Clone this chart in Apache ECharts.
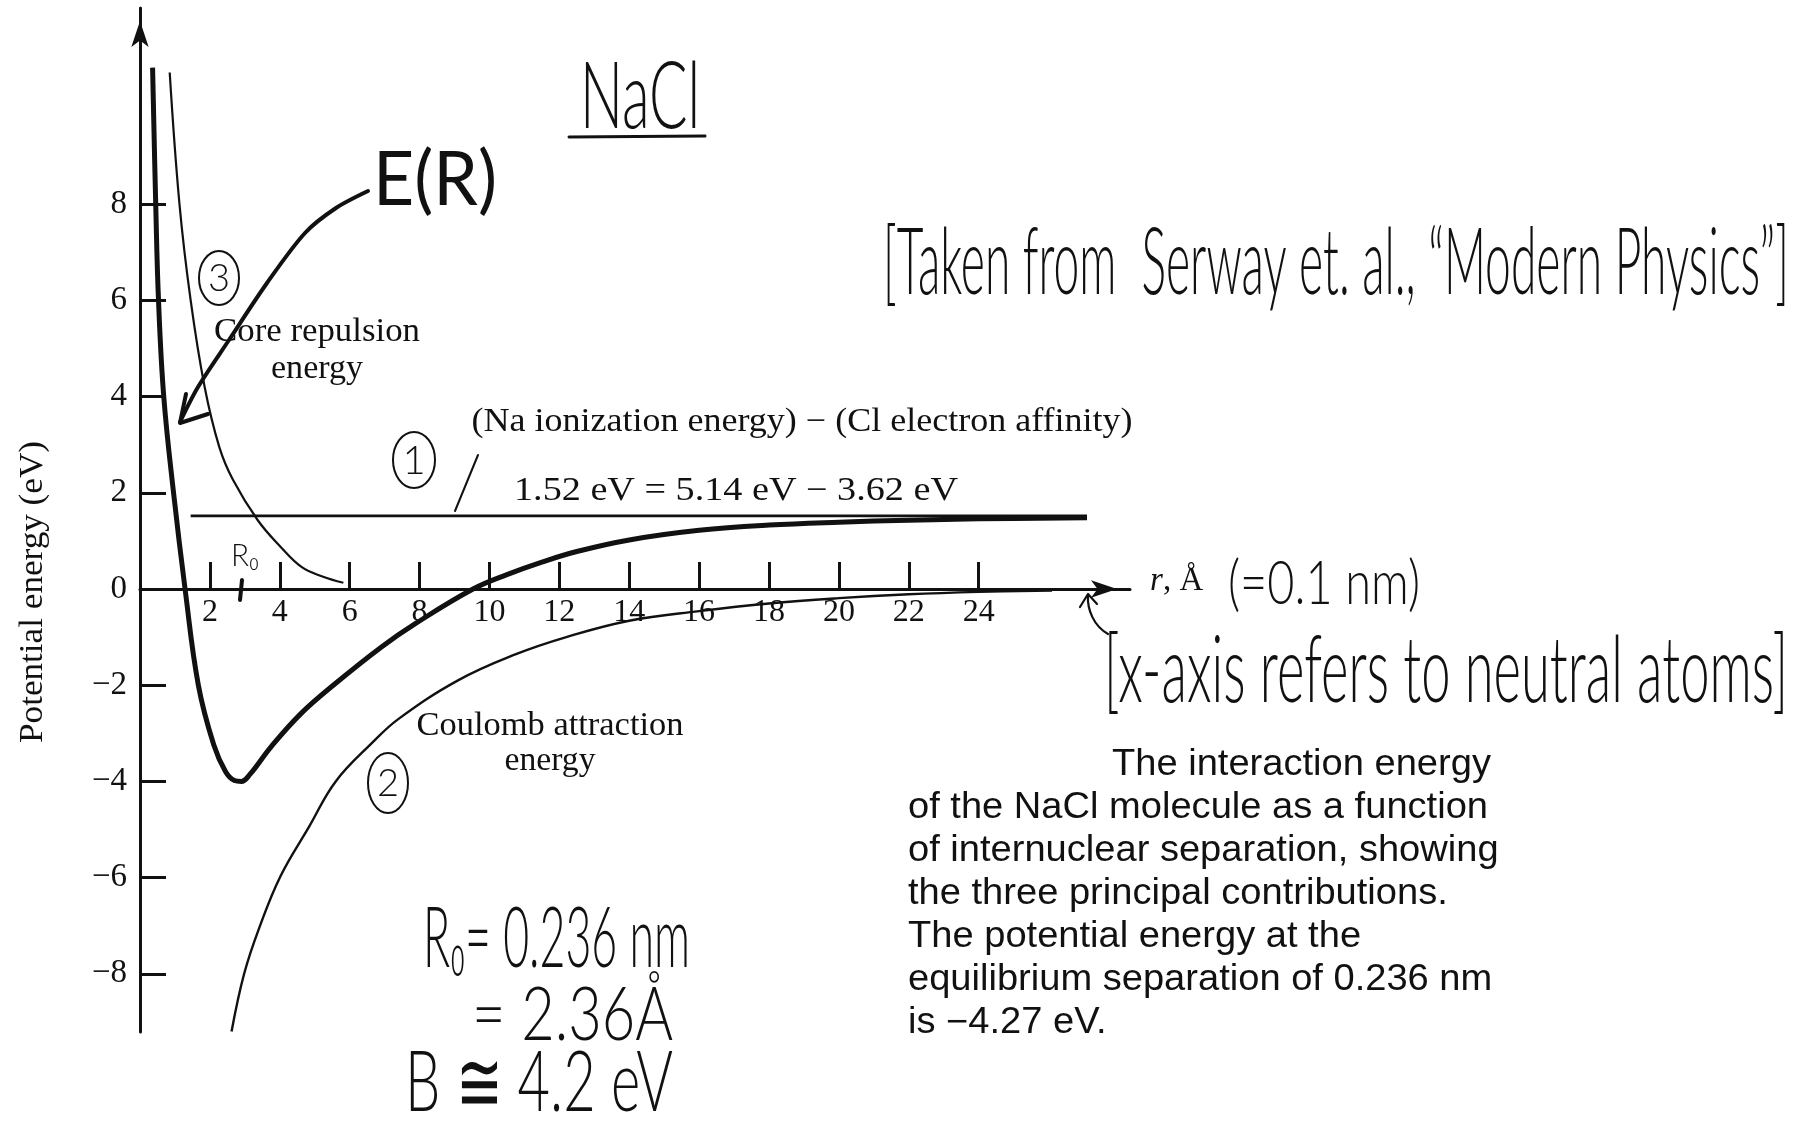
<!DOCTYPE html>
<html>
<head>
<meta charset="utf-8">
<title>NaCl interaction energy</title>
<script src="https://cdn.jsdelivr.net/npm/echarts@6/dist/echarts.min.js"></script>
<style>
  html, body { margin: 0; padding: 0; background: #fff; }
  #chart { width: 1803px; height: 1131px; }
</style>
</head>
<body>
<div id="chart"></div>
<script>
// Potential energy (eV) of NaCl against internuclear separation r (Å)
const xTicks = [2, 4, 6, 8, 10, 12, 14, 16, 18, 20, 22, 24];
const yTicks = [-8, -6, -4, -2, 0, 2, 4, 6, 8];

// (1) Na ionization energy minus Cl electron affinity
const ionizationLevel = 1.52;
const ionizationSpan = [1.45, 27.1];

// (3) core repulsion energy
const coreRepulsion = [
  [0.85, 10.74], [1.13, 8.0], [1.45, 6.0], [1.85, 4.2], [2.27, 2.95],
  [2.66, 2.27], [3.37, 1.43], [4.02, 0.88], [4.62, 0.46], [5.22, 0.26], [5.82, 0.13]
];

// (2) Coulomb attraction energy
const coulombAttraction = [
  [2.62, -9.2], [2.98, -8.0], [3.42, -7.03], [4.02, -5.97], [4.84, -4.94],
  [5.6, -4.0], [6.64, -3.2], [7.4, -2.7], [9.1, -1.9], [10.74, -1.36],
  [12.2, -1.0], [14, -0.66], [16, -0.46], [18, -0.3], [20, -0.19],
  [22, -0.11], [24, -0.06], [26.1, -0.03]
];

// E(R): total interaction energy
const totalEnergy = [
  [0.36, 10.84], [0.45, 8.0], [0.53, 6.0], [0.68, 4.0], [0.96, 2.0],
  [1.29, 0.0], [1.67, -2.0], [2.11, -3.24], [2.45, -3.8], [2.7, -3.98],
  [2.9, -4.0], [3.15, -3.85], [3.75, -3.28], [4.62, -2.58], [5.6, -1.96],
  [6.92, -1.2], [7.9, -0.71], [9.53, 0.0], [10.5, 0.3], [11.5, 0.56],
  [12.5, 0.78], [14, 1.02], [16, 1.22], [18, 1.33], [20, 1.39],
  [22, 1.43], [24, 1.46], [27.1, 1.48]
];

const captionLines = [
  'The interaction energy',
  'of the NaCl molecule as a function',
  'of internuclear separation, showing',
  'the three principal contributions.',
  'The potential energy at the',
  'equilibrium separation of 0.236 nm',
  'is \u22124.27 eV.'
];

const X_RANGE = [0, 28.33];
const Y_RANGE = [-9.21, 12.08];
const GRID = { left: 140, right: 673, top: 8, bottom: 99 };
const GRID_H = 1131 - GRID.top - GRID.bottom;

const INK = '#111';
const SERIF = "'Liberation Serif', 'Times New Roman', serif";
const SANS = "'Liberation Sans', Arial, sans-serif";
const HAND = "Lato, 'Noto Sans', 'DejaVu Sans', sans-serif";

const measureCtx = document.createElement('canvas').getContext('2d');
function widthOf(text, font) {
  measureCtx.font = font;
  return measureCtx.measureText(text).width;
}

// text element; when a width is given the glyphs are stretched to span it
function label(text, x, y, font, opts) {
  const o = opts || {};
  const sx = o.width ? o.width / widthOf(text, font) : (o.scaleX || 1);
  const align = o.align || 'left';
  return {
    type: 'text', x: x, y: y, rotation: o.rotation || 0, scaleX: sx, z: 20, silent: true,
    style: {
      text: text, font: font, fill: INK,
      textAlign: align, textVerticalAlign: 'middle',
      align: align, verticalAlign: 'middle'
    }
  };
}
function stroke(shapeType, shape, width, extra) {
  return Object.assign({
    type: shapeType, shape: shape, z: 20, silent: true,
    style: { stroke: INK, lineWidth: width, fill: null, lineCap: 'round', lineJoin: 'round' }
  }, extra || {});
}

const serif = (size) => size + 'px ' + SERIF;
const hand = (size, weight) => (weight || 300) + ' ' + size + 'px ' + HAND;

const captionFont = '36px ' + SANS;
const captionScale = 580 / widthOf(captionLines[1], captionFont);

const graphics = [
  // printed labels
  label('Core repulsion', 317, 332, serif(33), { align: 'center', width: 206 }),
  label('energy', 317, 369, serif(33), { align: 'center', width: 92 }),
  label('Coulomb attraction', 550, 726, serif(33), { align: 'center', width: 267 }),
  label('energy', 550, 761, serif(33), { align: 'center', width: 91 }),
  label('(Na ionization energy) \u2212 (Cl electron affinity)', 802, 422, serif(33), { align: 'center', width: 661 }),
  label('1.52 eV = 5.14 eV \u2212 3.62 eV', 736, 491, serif(33), { align: 'center', width: 444 }),
  label('Potential energy (eV)', 33, 592, serif(33), { align: 'center', width: 302, rotation: Math.PI / 2 }),
  label('r', 1150, 581, 'italic ' + serif(33)),
  label(', \u00C5', 1163, 581, serif(33)),

  // handwritten notes
  label('NaCl', 580, 98, hand(92), { width: 120 }),
  stroke('line', { x1: 569, y1: 137, x2: 705, y2: 136 }, 3),
  label('E(R)', 373, 180, hand(76, 400), { width: 124 }),
  stroke('polyline', { points: [[368, 191], [336, 208], [305, 233], [267, 283], [229, 340], [198, 387], [180, 422]], smooth: 0.3 }, 4),
  stroke('polyline', { points: [[208, 414], [180, 423], [186, 394]] }, 4),
  label('[Taken from  Serway et. al., \u201CModern Physics\u201D]', 883, 264, hand(92), { width: 906 }),
  label('(=0.1 nm)', 1228, 584, hand(62), { width: 192 }),
  label('[x-axis refers to neutral atoms]', 1104, 672, hand(92), { width: 684 }),
  stroke('bezierCurve', { x1: 1108, y1: 634, cpx1: 1094, cpy1: 626, cpx2: 1087, cpy2: 610, x2: 1088, y2: 595 }, 2.2),
  stroke('polyline', { points: [[1080, 607], [1088, 594], [1097, 604]] }, 2.2),
  label('R\u2080', 231, 556, hand(32), { width: 28 }),
  stroke('line', { x1: 242, y1: 580, x2: 240, y2: 600 }, 4),
  stroke('line', { x1: 455, y1: 511, x2: 478, y2: 455 }, 2),
  stroke('ellipse', { cx: 219, cy: 278, rx: 20, ry: 27 }, 2),
  label('3', 219, 279, hand(38), { align: 'center' }),
  stroke('ellipse', { cx: 414, cy: 460, rx: 21, ry: 28 }, 2),
  label('1', 414, 461, hand(40), { align: 'center' }),
  stroke('ellipse', { cx: 388, cy: 783, rx: 20, ry: 30 }, 2),
  label('2', 388, 784, hand(38), { align: 'center' }),
  label('R\u2080= 0.236 nm', 423, 940, hand(84), { width: 267 }),
  label('= 2.36\u00C5', 472, 1016, hand(74), { width: 201 }),
  label('B \u2245 4.2 eV', 405, 1084, hand(84), { width: 268 })
];

captionLines.forEach(function (line, i) {
  graphics.push(label(line, i === 0 ? 1112 : 908, 765 + 43 * i, captionFont, { scaleX: captionScale }));
});

// the r axis runs through E = 0, so it is shifted up from the bottom of the grid
const xAxisOffset = -GRID_H * (0 - Y_RANGE[0]) / (Y_RANGE[1] - Y_RANGE[0]);

const chart = echarts.init(document.getElementById('chart'), null, { renderer: 'canvas' });

const curve = (name, data, width, z) => ({
  name: name, type: 'line', data: data, showSymbol: false, silent: true,
  smooth: 0.4, z: z,
  lineStyle: { color: INK, width: width }
});

chart.setOption({
  animation: false,
  backgroundColor: '#fff',
  grid: Object.assign({ containLabel: false, outerBoundsMode: 'none' }, GRID),
  xAxis: {
    type: 'value', min: X_RANGE[0], max: X_RANGE[1], position: 'bottom', offset: xAxisOffset,
    axisLine: {
      onZero: false, symbol: ['none', 'arrow'], symbolSize: [13, 26], symbolOffset: [0, -13],
      lineStyle: { color: INK, width: 3 }
    },
    axisTick: { show: true, inside: true, length: 27, customValues: xTicks, lineStyle: { color: INK, width: 3 } },
    axisLabel: { customValues: xTicks, margin: 8, fontSize: 32, fontFamily: SERIF, color: INK },
    splitLine: { show: false }
  },
  yAxis: {
    type: 'value', min: Y_RANGE[0], max: Y_RANGE[1],
    axisLine: {
      show: true, onZero: false, symbol: ['none', 'arrow'], symbolSize: [13, 26], symbolOffset: [0, -13],
      lineStyle: { color: INK, width: 3 }
    },
    axisTick: { show: true, inside: true, length: 26, customValues: yTicks, lineStyle: { color: INK, width: 3 } },
    axisLabel: {
      customValues: yTicks, margin: 13, fontSize: 33, fontFamily: SERIF, color: INK,
      formatter: function (v) { return v < 0 ? '\u2212' + (-v) : String(v); }
    },
    splitLine: { show: false }
  },
  series: [
    curve('ionization', [[ionizationSpan[0], ionizationLevel], [ionizationSpan[1], ionizationLevel]], 2.8, 2),
    curve('core repulsion', coreRepulsion, 2.2, 2),
    curve('Coulomb attraction', coulombAttraction, 2.4, 2),
    curve('E(R)', totalEnergy, 5, 3)
  ],
  graphic: { elements: graphics }
});
</script>
</body>
</html>
